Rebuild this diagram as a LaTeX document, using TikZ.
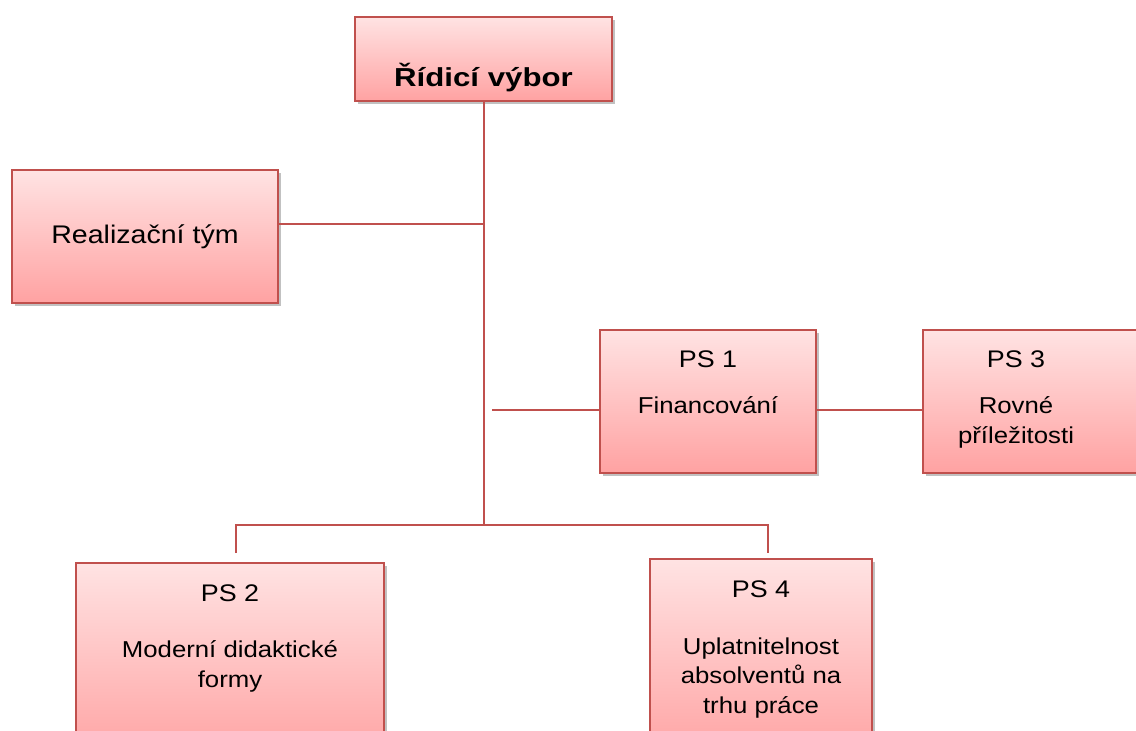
\documentclass[tikz,border=0pt]{standalone}
\usepackage{fontspec}
\setmainfont{Liberation Sans}
\usetikzlibrary{shadows}
\definecolor{boxline}{HTML}{C0504D}
\definecolor{boxtop}{HTML}{FFE3E3}
\definecolor{boxbot}{HTML}{FFA2A2}
\newcommand\hs[1]{\scalebox{1.12}[1]{#1}}
\begin{document}
\begin{tikzpicture}[x=1pt,y=-1pt,
  box/.style={draw=boxline, line width=1.4pt, top color=boxtop, bottom color=boxbot,
    drop shadow={shadow xshift=2.5pt, shadow yshift=-3pt, opacity=0.35, fill=black!70},
    inner sep=0pt},
  conn/.style={draw=boxline, line width=1.5pt},
  ttl/.style={anchor=base, font=\fontsize{26}{30}\selectfont\bfseries},
  pslbl/.style={anchor=base, font=\fontsize{24}{30}\selectfont},
  body/.style={anchor=base, align=center, font=\fontsize{23}{29.5}\selectfont},
  big/.style={font=\fontsize{25.5}{30}\selectfont}]
\useasboundingbox (0,0) rectangle (1136,731);
% boxes
\node[box, minimum width=257pt, minimum height=84pt] (top) at (483.5,59) {};
\node[box, big, minimum width=266pt, minimum height=133pt] (real) at (145,236.5) {\hs{Realizační tým}};
\node[box, minimum width=216pt, minimum height=143pt] (ps1) at (708,401.5) {};
\node[box, minimum width=217pt, minimum height=143pt] (ps3) at (1031.5,401.5) {};
\node[box, minimum width=308pt, minimum height=197pt] (ps2) at (230,661.5) {};
\node[box, minimum width=222pt, minimum height=201pt] (ps4) at (761,659.5) {};
% texts (multi-line texts anchored at the baseline of their last line)
\node[ttl] (toptxt) at (483.5,86) {\scalebox{1.2}[1]{Řídicí výbor}};
\node[pslbl] (ps1a) at (708,367) {\hs{PS 1}};
\node[body] (ps1b) at (708,413) {\hs{Financování}};
\node[pslbl] (ps3a) at (1016,367) {\hs{PS 3}};
\node[body] (ps3b) at (1016,443) {\hs{Rovné}\\\hs{příležitosti}};
\node[pslbl] (ps2a) at (230,601) {\hs{PS 2}};
\node[body] (ps2b) at (230,687) {\hs{Moderní didaktické}\\\hs{formy}};
\node[pslbl] (ps4a) at (761,597) {\hs{PS 4}};
\node[body] (ps4b) at (761,713) {\hs{Uplatnitelnost}\\\hs{absolventů na}\\\hs{trhu práce}};
% connectors
\coordinate (j1) at (484,224);
\coordinate (j2) at (492,410);
\coordinate (jb) at (484,525);
\coordinate (e2) at (236,553);
\coordinate (e4) at (768,553);
\draw[conn] (jb |- top.south) -- (jb);
\draw[conn] (j1 -| real.east) -- (j1);
\draw[conn] (j2) -- (j2 -| ps1.west);
\draw[conn] (ps1.east |- j2) -- (ps3.west |- j2);
\draw[conn] (e2) |- (jb) -| (e4);
\end{tikzpicture}
\end{document}
